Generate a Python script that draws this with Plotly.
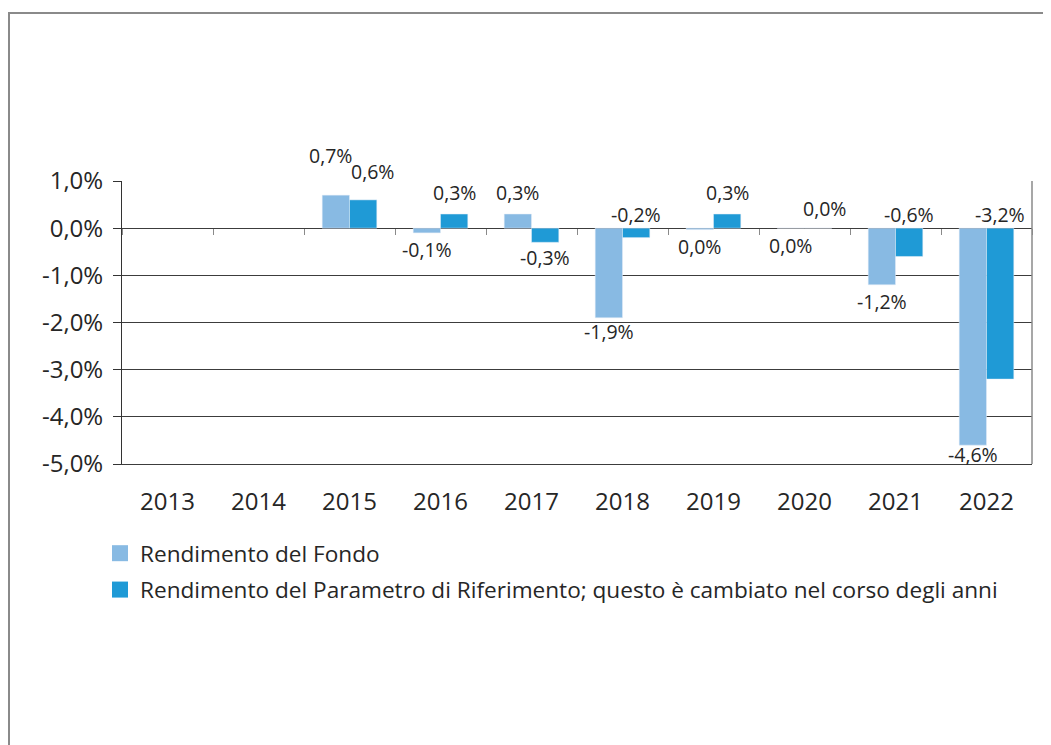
import plotly.graph_objects as go

# ---------------- data ----------------
years = ["2013", "2014", "2015", "2016", "2017", "2018", "2019", "2020", "2021", "2022"]
fondo = [None, None, 0.7, -0.1, 0.3, -1.9, -0.03, 0.0, -1.2, -4.6]
parametro = [None, None, 0.6, 0.3, -0.3, -0.2, 0.3, 0.0, -0.6, -3.2]
name_fondo = "Rendimento del Fondo"
name_param = "Rendimento del Parametro di Riferimento; questo è cambiato nel corso degli anni"
y_tick_values = [1, 0, -1, -2, -3, -4, -5]
y_tick_text = ["1,0%", "0,0%", "-1,0%", "-2,0%", "-3,0%", "-4,0%", "-5,0%"]

# ---------------- style ----------------
OFF = 8  # page body margin
W, H = 1051 - OFF, 745 - OFF
L, R, T, B = 114, 19, 173, 281
PW, PH = W - L - R, H - T - B
FONT = "Open Sans"
TXT = "#262626"
C_FONDO = "#88BAE3"
C_PARAM = "#1F9AD6"
GRID = "#3c3c3c"
FRAME = "#8a8a8a"


def px_x(p):  # screen x (reference) -> paper x
    return (p - OFF - L) / PW


def px_y(p):  # screen y (reference) -> paper y
    return (H - B - (p - OFF)) / PH


def fmt(v):
    s = f"{v:.1f}%".replace(".", ",")
    return "0,0%" if s == "-0,0%" else s


fig = go.Figure()
fig.add_trace(go.Bar(x=years, y=fondo, name=name_fondo, marker_color=C_FONDO,
                     showlegend=False, hoverinfo="skip"))
fig.add_trace(go.Bar(x=years, y=parametro, name=name_param, marker_color=C_PARAM,
                     showlegend=False, hoverinfo="skip"))
# legend entries with larger square swatches
for nm, col, grp in ((name_fondo, C_FONDO, "a"), (name_param, C_PARAM, "b")):
    fig.add_trace(go.Scatter(x=[None], y=[None], mode="markers", name=nm, legendgroup=grp,
                             marker=dict(symbol="square", size=16, color=col),
                             hoverinfo="skip"))
# invisible helper trace for the category ticks drawn on the zero line
fig.add_trace(go.Scatter(x=years, y=[None] * len(years), xaxis="x2", yaxis="y",
                         showlegend=False, hoverinfo="skip", mode="markers"))

# ---------------- data labels ----------------
HALF = 13.6  # half bar width in px (side offset inside a group)
tweaks = {("f", "2015"): (-5, 18), ("p", "2015"): (9, 6), ("p", "2020"): (6, -2),
          ("f", "2022"): (0, 8), ("f", "2018"): (0, 3)}
below_end_param = {"2017"}

annotations = []
for series, vals, side in (("f", fondo, -1), ("p", parametro, 1)):
    for i, (yr, v) in enumerate(zip(years, vals)):
        if v is None:
            continue
        if series == "f":
            if v > 0:
                yref_v, ys = v, 22
            else:
                yref_v, ys = v, -17
        else:
            if v >= 0:
                yref_v, ys = v, 22
            elif yr in below_end_param:
                yref_v, ys = v, -15
            else:
                yref_v, ys = 0, 14
        dx, dy = tweaks.get((series, yr), (0, 0))
        annotations.append(dict(
            x=i, y=yref_v, xref="x", yref="y", text=fmt(v), showarrow=False,
            xanchor="center", yanchor="middle", xshift=side * HALF + dx, yshift=ys + dy,
            font=dict(family=FONT, size=19.5, color=TXT)))

shapes = [
    # outer frame (left and top edges visible)
    dict(type="rect", xref="paper", yref="paper", x0=px_x(9), x1=px_x(1080),
         y0=px_y(790), y1=px_y(13), line=dict(color=FRAME, width=2), layer="below"),
    # right border of plot area
    dict(type="line", xref="paper", yref="paper", x0=1, x1=1, y0=0, y1=1,
         line=dict(color=FRAME, width=1.5)),
]

fig.update_layout(
    width=W, height=H,
    margin=dict(l=L, r=R, t=T, b=B, pad=0),
    paper_bgcolor="white", plot_bgcolor="white",
    font=dict(family=FONT, color=TXT, size=22),
    barmode="group", bargap=0.4, bargroupgap=0,
    showlegend=True,
    legend=dict(x=px_x(100), y=px_y(532), xanchor="left", yanchor="top",
                orientation="v", font=dict(family=FONT, size=22.6, color=TXT),
                tracegroupgap=4, itemsizing="trace", bgcolor="rgba(0,0,0,0)"),
    xaxis=dict(type="category", categoryorder="array", categoryarray=years,
               range=[-0.5, len(years) - 0.5], showgrid=False, zeroline=False,
               showline=True, linecolor=GRID, linewidth=1, ticks="",
               ticklabelstandoff=16, tickfont=dict(family=FONT, size=24, color=TXT)),
    xaxis2=dict(type="category", categoryorder="array", categoryarray=years,
                range=[-0.5, len(years) - 0.5], overlaying="x", anchor="free",
                position=5 / 6, side="bottom", tickson="boundaries", ticks="outside",
                ticklen=6, tickwidth=1, tickcolor="#8a8a8a", showticklabels=False,
                showgrid=False, showline=False, zeroline=False),
    yaxis=dict(range=[-5, 1], tickvals=y_tick_values, ticktext=y_tick_text,
               showgrid=True, gridcolor=GRID, gridwidth=1, zeroline=True,
               zerolinecolor=GRID, zerolinewidth=1, showline=True, linecolor="#333333",
               linewidth=1, ticks="outside", ticklen=8, tickcolor="#333333",
               ticklabelstandoff=5, tickfont=dict(family=FONT, size=24, color=TXT)),
    annotations=annotations,
    shapes=shapes,
)

fig.write_html("out.html")
